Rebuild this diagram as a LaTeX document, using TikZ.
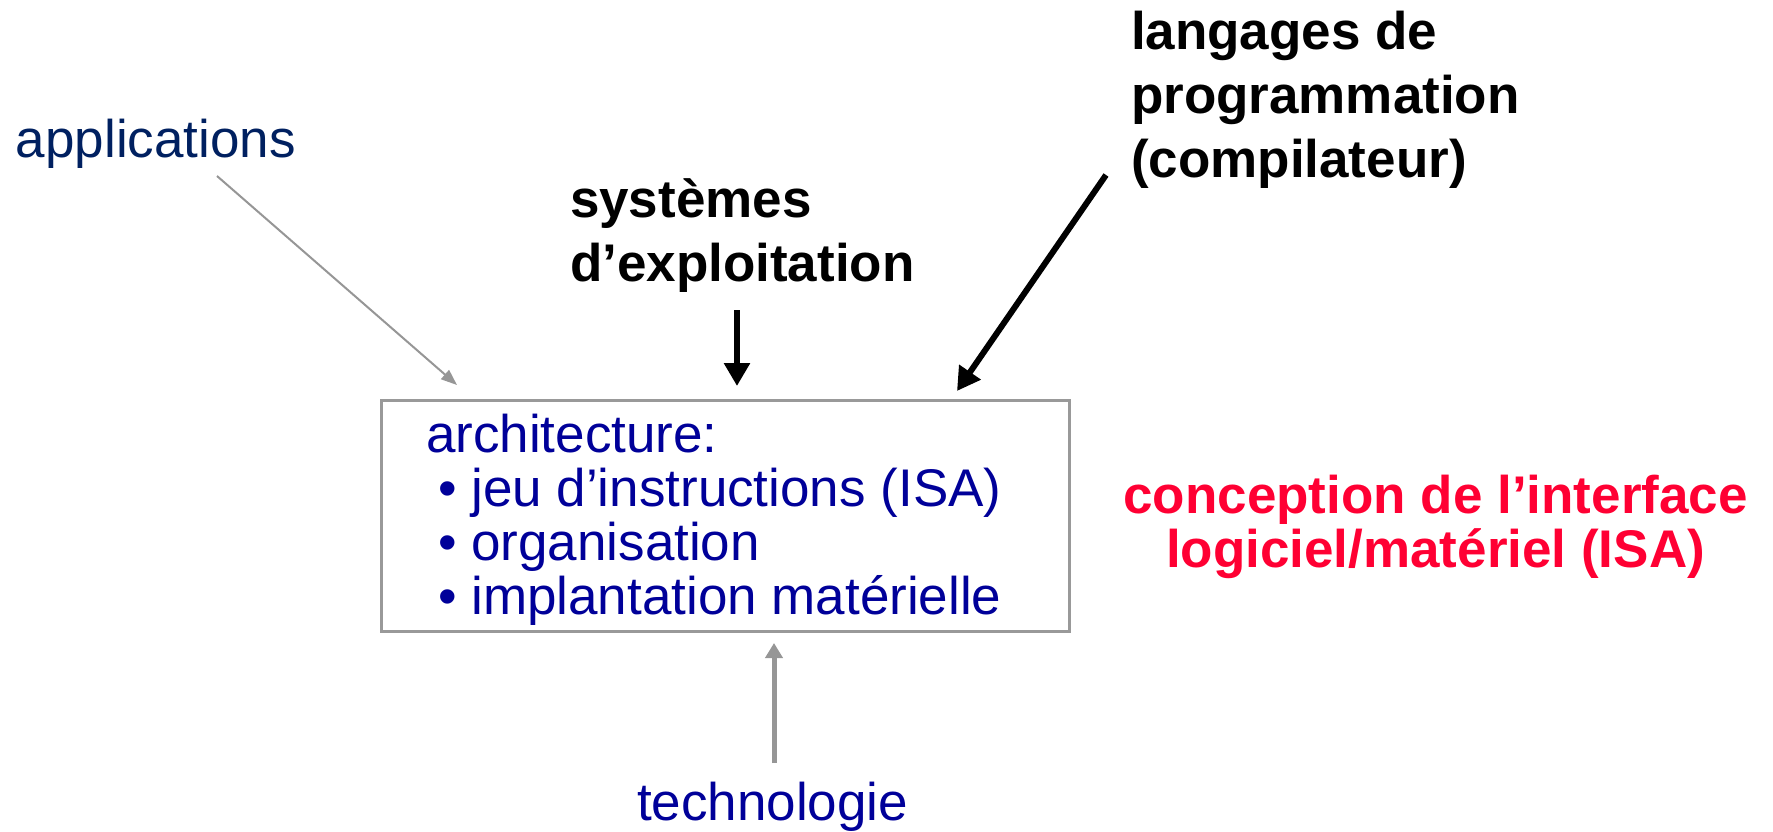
\documentclass[tikz,border=0pt]{standalone}
\usepackage{fontspec}
\setmainfont{Liberation Sans}
\usetikzlibrary{arrows.meta,calc}
\definecolor{appblue}{RGB}{0,32,96}
\definecolor{archblue}{RGB}{0,0,153}
\definecolor{isared}{RGB}{255,0,51}
\definecolor{arrowgray}{RGB}{150,150,150}
\definecolor{boxgray}{RGB}{153,153,153}
\newcommand\leftstack[2]{\vtop{\baselineskip=#1\lineskiplimit=-1000pt\lineskip=0pt\halign{##\hfil\cr#2\crcr}}}
\newcommand\centerstack[2]{\vtop{\baselineskip=#1\lineskiplimit=-1000pt\lineskip=0pt\halign{\hfil##\hfil\cr#2\crcr}}}
\begin{document}
\begin{tikzpicture}[x=1pt,y=-1pt,
  lbl/.style={inner sep=0pt, outer sep=0pt, anchor=base west, font=\fontsize{53}{64}\selectfont},
  boldlbl/.style={lbl, font=\fontsize{53}{64}\selectfont\bfseries},
  archbox/.style={draw=boxgray, line width=3pt, inner sep=0pt, outer sep=0pt, anchor=north west},
  grayarrow/.style={draw=arrowgray, line width=2pt, -{Triangle[length=16pt,width=12pt]}},
  grayfatarrow/.style={draw=arrowgray, line width=5pt, -{Triangle[length=15pt,width=17pt]}},
  blackarrow/.style={draw=black, line width=6pt, -{Triangle[length=23pt,width=25pt]}}]
\useasboundingbox (0,0) rectangle (1773,832);

% texts
\node[lbl, text=appblue] (apps) at (16,158) {applications};
\node[boldlbl] (sys) at (570,217) {\leftstack{64pt}{systèmes\cr d’exploitation}};
\node[boldlbl] (lang) at (1131,50) {\leftstack{64pt}{langages de\cr programmation\cr (compilateur)}};
\node[boldlbl, anchor=base, text=isared] (isa) at (1435.5,513) {\centerstack{54pt}{conception de l’interface\cr logiciel/matériel (ISA)}};
\node[lbl, text=archblue] (tech) at (637,820) {technologie};

% architecture box
\node[archbox, minimum width=688pt, minimum height=231pt] (box) at (381,400) {};
\node[lbl, text=archblue] (archtext) at (426,452) {\leftstack{54pt}{architecture:\cr
  \hspace{12pt}• jeu d’instructions (ISA)\cr
  \hspace{12pt}• organisation\cr
  \hspace{12pt}• implantation matérielle}};

% connector ends
\coordinate (appS) at (217,176);
\coordinate (appE) at (457,385);
\coordinate (sysS) at (737,310);
\coordinate (sysE) at (737,386);
\coordinate (langS) at (1106,175);
\coordinate (langE) at (957,391);
\coordinate (techS) at (774,763);
\coordinate (techE) at (774,643);

\draw[grayarrow] (appS) -- (appE);
\draw[blackarrow] (sysS) -- (sysE);
\draw[blackarrow] (langS) -- (langE);
\draw[grayfatarrow] (techS) -- (techE);
\end{tikzpicture}
\end{document}
